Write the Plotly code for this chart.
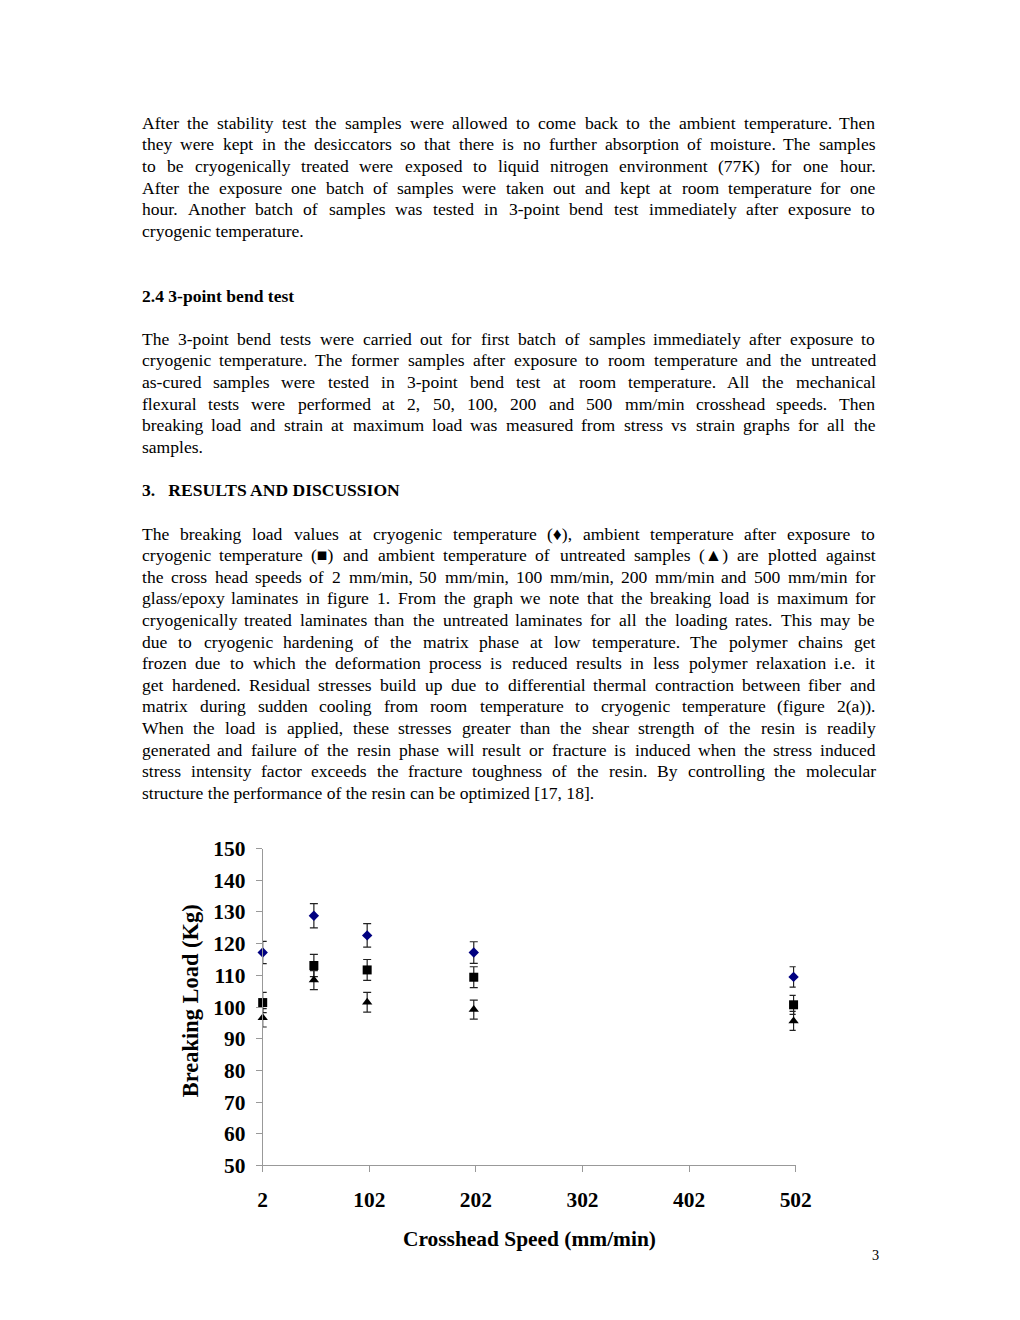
import plotly.graph_objects as go

# Crosshead speeds (mm/min)
speeds = [2, 50, 100, 200, 500]

# Breaking load (Kg) and error bars
cryo_load = [117.2, 128.8, 122.6, 117.2, 109.5]
cryo_err = [3.5, 3.8, 3.7, 3.4, 3.2]
ambient_load = [101.4, 113.1, 111.7, 109.4, 100.7]
ambient_err = [3.2, 3.5, 3.3, 3.3, 3.0]
untreated_load = [96.6, 108.5, 101.5, 99.2, 95.6]
untreated_err = [2.9, 3.0, 3.1, 3.0, 3.0]

x_ticks = [2, 102, 202, 302, 402, 502]
y_ticks = [50, 60, 70, 80, 90, 100, 110, 120, 130, 140, 150]

para1 = [
    "After the stability test the samples were allowed to come back to the ambient temperature. Then",
    "they were kept in the desiccators so that there is no further absorption of moisture. The samples",
    "to be cryogenically treated were exposed to liquid nitrogen environment (77K) for one hour.",
    "After the exposure one batch of samples were taken out and kept at room temperature for one",
    "hour.  Another batch of samples was tested in 3-point bend test immediately after exposure to",
    "cryogenic temperature.",
]
para2 = [
    "The 3-point bend tests were carried out for first batch of samples immediately after exposure to",
    "cryogenic temperature. The former samples after exposure to room temperature and the untreated",
    "as-cured samples were tested in 3-point bend test at room temperature. All the mechanical",
    "flexural tests were performed at 2, 50, 100, 200 and 500 mm/min crosshead speeds. Then",
    "breaking load and strain at maximum load was measured from stress vs strain graphs for all the",
    "samples.",
]
para3 = [
    "The breaking load values at cryogenic temperature (\u2666), ambient temperature after exposure to",
    "cryogenic temperature (\u25a0) and ambient temperature of untreated samples (\u25b2) are plotted against",
    "the cross head speeds of 2 mm/min, 50 mm/min, 100 mm/min, 200 mm/min and 500 mm/min for",
    "glass/epoxy laminates in figure 1. From the graph we note that the breaking load is maximum for",
    "cryogenically treated laminates than the untreated laminates for all the loading rates. This may be",
    "due to cryogenic hardening of the matrix phase at low temperature. The polymer chains get",
    "frozen due to which the deformation process is reduced results in less polymer relaxation i.e. it",
    "get hardened.  Residual stresses build up due to differential thermal contraction between fiber and",
    "matrix during sudden cooling from room temperature to cryogenic temperature (figure 2(a)).",
    "When the load is applied, these stresses greater than the shear strength of the resin is readily",
    "generated and failure of the resin phase will result or fracture is induced when the stress induced",
    "stress intensity factor exceeds the fracture toughness of the resin. By controlling the molecular",
    "structure the performance of the resin can be optimized [17, 18].",
]

# figure size; the screenshot shows it slightly scaled and shifted,
# so page pixel positions are mapped back through the measured offsets
W, H = 1004, 1304
X0, XS = 12.3, 983.0    # where paper x=0 lands, and paper width, in screenshot px
Y0, YS = 19.1, 1280.5   # same for the top edge / height
K = 1 / 0.98            # font size compensation for the scaling

LEFT, RIGHT = 139, 872
FONT = "Liberation Serif, Times New Roman, serif"
TEXT_SIZE = 17.2


def px(x):
    return (x - X0) / XS


def py(y):
    return 1 - (y - Y0) / YS


try:
    from PIL import ImageFont
    pil_font = ImageFont.truetype(
        "/usr/share/fonts/truetype/liberation/LiberationSerif-Regular.ttf", 100)

    def text_width(s):
        return pil_font.getlength(s) * TEXT_SIZE / 100.0
except Exception:
    pil_font = None

    def text_width(s):
        return len(s) * TEXT_SIZE * 0.44

annotations = []


def add_text(s, xpx, ypx, size=TEXT_SIZE, bold=False, anchor="left"):
    annotations.append(dict(
        x=px(xpx), y=py(ypx), xref="paper", yref="paper",
        text="<b>%s</b>" % s if bold else s, showarrow=False,
        xanchor=anchor, yanchor="middle",
        font=dict(family=FONT, size=size * K, color="black"),
    ))


def add_paragraph(lines, y0, step=21.6):
    for i, line in enumerate(lines):
        ypx = y0 + i * step
        words = line.split()
        last = i == len(lines) - 1
        if last or pil_font is None or len(words) < 2:
            add_text(line, LEFT, ypx)
            continue
        # justify the line: spread the words over the column width
        widths = [text_width(w) for w in words]
        gap = max(2.0, (RIGHT - LEFT - sum(widths)) / (len(words) - 1))
        xpx = LEFT
        for w, wd in zip(words, widths):
            add_text(w, xpx, ypx)
            xpx += wd + gap


add_paragraph(para1, 123)
add_text("2.4 3-point bend test", LEFT, 296, bold=True)
add_paragraph(para2, 339)
add_text("3.&nbsp;&nbsp; RESULTS AND DISCUSSION", LEFT, 490, bold=True)
add_paragraph(para3, 534)
add_text("3", 875, 1256, size=14, anchor="center")

# axis titles
add_text("Crosshead Speed (mm/min)", 529, 1240, size=21, bold=True, anchor="center")
annotations.append(dict(
    x=px(190), y=py(1001), xref="paper", yref="paper",
    text="<b>Breaking Load (Kg)</b>", showarrow=False, textangle=-90,
    xanchor="center", yanchor="middle",
    font=dict(family=FONT, size=22 * K, color="black"),
))

err_style = dict(type="data", thickness=1.2, width=4, color="#222222")

fig = go.Figure()
fig.add_trace(go.Scatter(
    x=speeds, y=cryo_load, mode="markers", cliponaxis=False,
    marker=dict(symbol="diamond", size=8, color="#000080"),
    error_y=dict(array=cryo_err, **err_style),
))
fig.add_trace(go.Scatter(
    x=speeds, y=ambient_load, mode="markers", cliponaxis=False,
    marker=dict(symbol="square", size=9, color="black"),
    error_y=dict(array=ambient_err, **err_style),
))
fig.add_trace(go.Scatter(
    x=speeds, y=untreated_load, mode="markers", cliponaxis=False,
    marker=dict(symbol="triangle-up", size=9, color="black"),
    error_y=dict(array=untreated_err, **err_style),
))

axis_font = dict(family=FONT, size=21 * K, color="black")
fig.update_layout(
    width=W, height=H, autosize=False,
    margin=dict(l=0, r=0, t=0, b=0),
    paper_bgcolor="white", plot_bgcolor="white",
    showlegend=False,
    annotations=annotations,
    xaxis=dict(
        domain=[px(262), px(795)], range=[2, 502],
        tickvals=x_ticks, ticktext=["<b>%d</b>" % v for v in x_ticks],
        ticks="outside", ticklen=6, tickcolor="#999999",
        showline=True, linecolor="#999999", linewidth=1,
        showgrid=False, zeroline=False, tickfont=axis_font,
        ticklabelstandoff=9,
    ),
    yaxis=dict(
        domain=[py(1166), py(849)], range=[50, 150],
        tickvals=y_ticks, ticktext=["<b>%d</b>" % v for v in y_ticks],
        ticks="outside", ticklen=6, tickcolor="#999999",
        showline=True, linecolor="#999999", linewidth=1,
        showgrid=False, zeroline=False, tickfont=axis_font,
        ticklabelstandoff=6,
    ),
)

fig.write_html("out.html")
